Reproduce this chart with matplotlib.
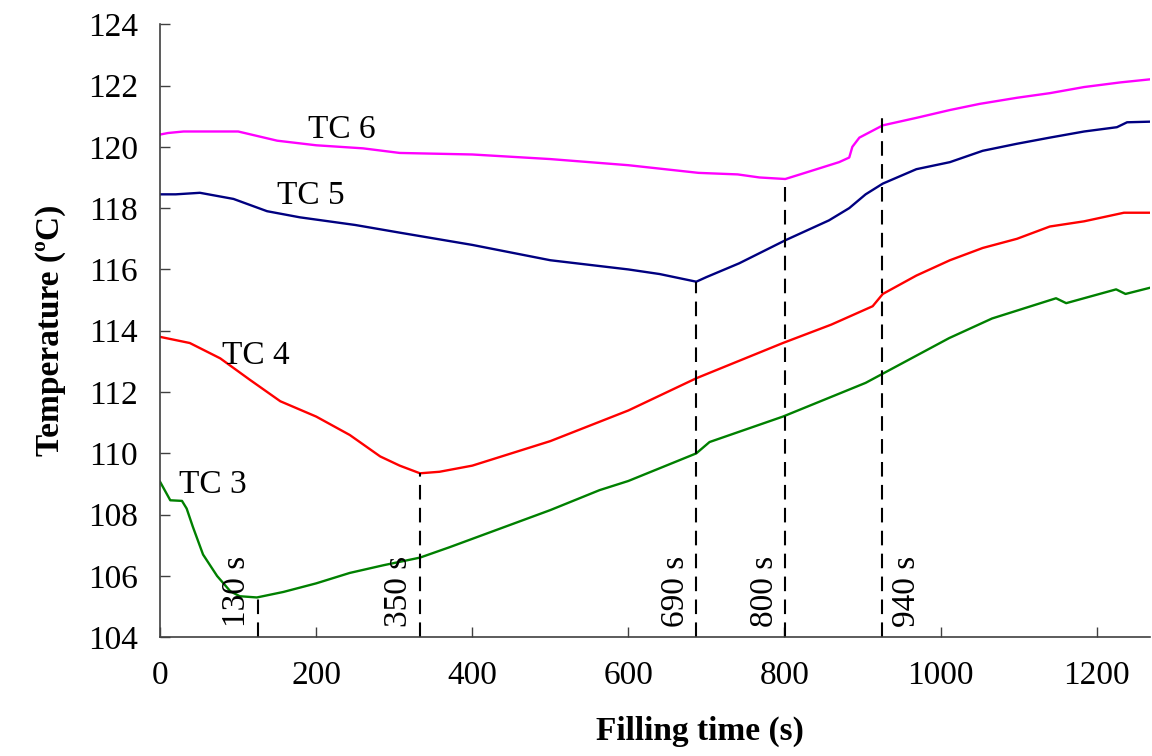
import matplotlib
matplotlib.use('Agg')
import matplotlib.pyplot as plt

# thermocouple readings (time in s, temperature in degC)
tc6_t = [0, 10, 30, 100, 150, 200, 260, 307, 400, 500, 600, 690, 740, 768, 801,
         820, 845, 870, 883, 887, 896, 926, 970, 1012, 1050, 1098, 1140, 1184, 1230, 1268]
tc6_T = [120.4, 120.45, 120.5, 120.5, 120.2, 120.05, 119.95, 119.8, 119.75, 119.6,
         119.4, 119.15, 119.1, 119.0, 118.95, 119.1, 119.3, 119.5, 119.65, 120.0,
         120.3, 120.7, 120.95, 121.2, 121.4, 121.6, 121.75, 121.95, 122.1, 122.2]

tc5_t = [0, 20, 51, 94, 137, 179, 250, 307, 400, 500, 600, 640, 687, 700, 742, 801,
         857, 883, 904, 926, 969, 1012, 1054, 1098, 1140, 1184, 1226, 1239, 1268]
tc5_T = [118.45, 118.45, 118.5, 118.3, 117.9, 117.7, 117.45, 117.2, 116.8, 116.3,
         116.0, 115.85, 115.6, 115.75, 116.2, 116.95, 117.6, 118.0, 118.45, 118.8,
         119.27, 119.5, 119.87, 120.1, 120.3, 120.5, 120.64, 120.8, 120.82]

tc4_t = [0, 38, 77, 115, 154, 200, 243, 282, 307, 333, 358, 400, 500, 600, 687, 798,
         860, 913, 926, 969, 1012, 1054, 1098, 1140, 1184, 1235, 1268]
tc4_T = [113.8, 113.6, 113.1, 112.4, 111.7, 111.2, 110.6, 109.9, 109.6, 109.35,
         109.4, 109.6, 110.4, 111.4, 112.45, 113.6, 114.2, 114.8, 115.2, 115.8,
         116.3, 116.7, 117.0, 117.4, 117.57, 117.85, 117.85]

tc3_t = [0, 13, 28, 34, 42, 55, 73, 90, 102, 124, 158, 200, 243, 286, 333, 371, 500,
         563, 600, 687, 704, 798, 904, 926, 1011, 1066, 1148, 1161, 1225, 1237, 1268]
tc3_T = [109.07, 108.47, 108.45, 108.2, 107.6, 106.7, 106.0, 105.5, 105.34, 105.3,
         105.48, 105.76, 106.1, 106.35, 106.6, 106.94, 108.15, 108.8, 109.1, 110.0,
         110.37, 111.2, 112.3, 112.6, 113.76, 114.4, 115.06, 114.9, 115.35, 115.2, 115.4]

# marked instants: where the dashed line sits, how high it goes, its label
mark_t = [125, 333, 687, 801, 925]
mark_top = [105.3, 109.35, 115.6, 118.95, 121.0]
mark_labels = ['130 s', '350 s', '690 s', '800 s', '940 s']

curve_names = ['TC 6', 'TC 5', 'TC 4', 'TC 3']
name_pos = [(233, 120.55), (193, 118.4), (122, 113.17), (68, 108.99)]

plt.rcParams['font.family'] = ['Liberation Serif', 'DejaVu Serif']

fig = plt.figure(figsize=(11.52, 7.56), dpi=100)
ax = fig.add_axes([0.139, 0.157, 0.859, 0.811])

ax.plot(tc6_t, tc6_T, color='#ff00ff', lw=1.7)
ax.plot(tc5_t, tc5_T, color='#000080', lw=1.7)
ax.plot(tc4_t, tc4_T, color='#ff0000', lw=1.7)
ax.plot(tc3_t, tc3_T, color='#008000', lw=1.7)

for name, (x, y) in zip(curve_names, name_pos):
    ax.text(x, y, name, fontsize=24, ha='center', va='center')

for i, (x, top, lab) in enumerate(zip(mark_t, mark_top, mark_labels)):
    ax.plot([x, x], [104, top], color='black', lw=1.5, ls=(0, (7, 4)))
    if i == len(mark_t) - 1:
        off, ha = (7, 0), 'left'
    else:
        off, ha = (-4, 0), 'right'
    ax.annotate(lab, xy=(x, 104.35), xytext=off, textcoords='offset points',
                rotation=90, ha=ha, va='bottom', fontsize=24)

ax.set_xlim(0, 1268)
ax.set_ylim(104, 124)
ax.set_xticks(range(0, 1201, 200))
ax.set_yticks(range(104, 125, 2))

ax.spines['top'].set_visible(False)
ax.spines['right'].set_visible(False)
for s in ['left', 'bottom']:
    ax.spines[s].set_color('#404040')
    ax.spines[s].set_linewidth(1.2)

ax.tick_params(axis='both', direction='in', length=7, width=1, color='#404040',
               labelsize=24)
ax.tick_params(axis='y', pad=16)
ax.tick_params(axis='x', pad=17)

ax.set_xlabel('Filling time (s)', fontsize=24, fontweight='bold')
ax.xaxis.set_label_coords(0.546, -0.128)
ax.set_ylabel('Temperature (ºC)', fontsize=24, fontweight='bold', labelpad=16)

fig.savefig('out.png', dpi=100)
